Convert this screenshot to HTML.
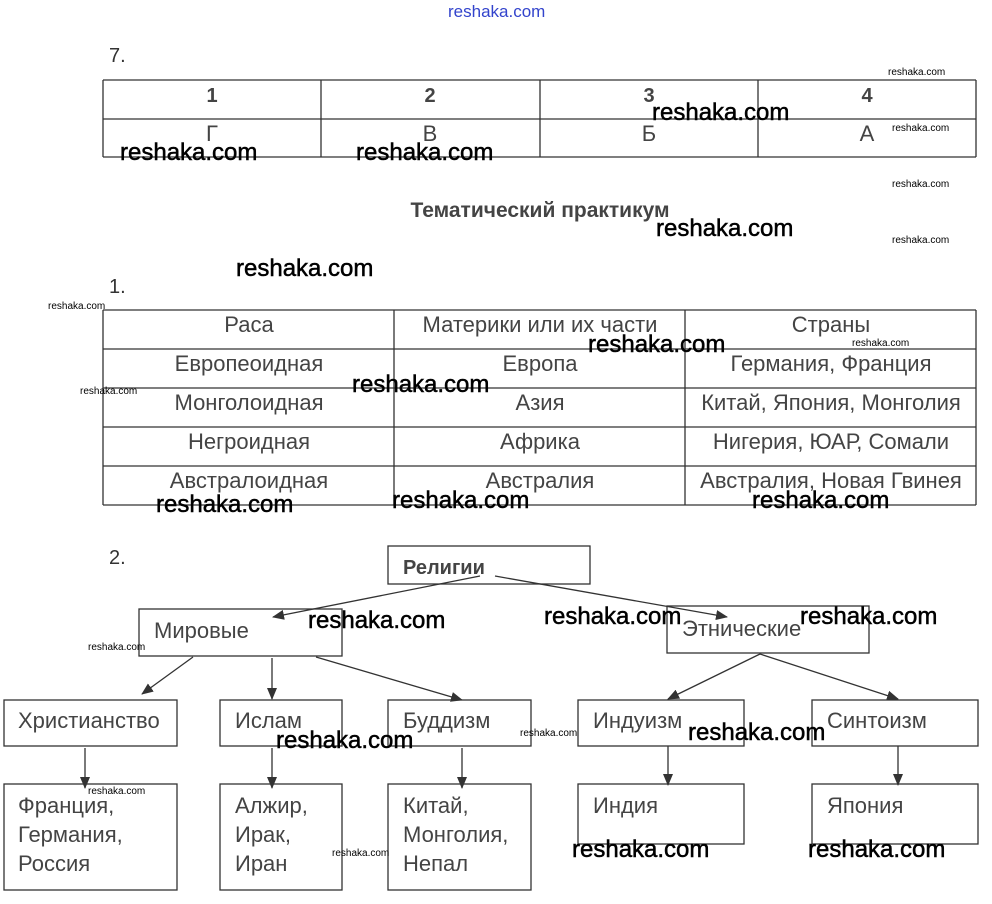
<!DOCTYPE html>
<html><head><meta charset="utf-8"><style>
html,body{margin:0;padding:0;background:#fff;}
svg{display:block;}
text{font-family:"Liberation Sans",sans-serif;}
.t{font-size:22px;fill:#444;}
.c{font-size:22px;fill:#444;text-anchor:middle;}
.w{font-size:24px;fill:#000;stroke:#000;stroke-width:0.5;}
.s{font-size:10px;fill:#000;}
line,rect{stroke:#333;stroke-width:1.3;}
rect{fill:none;}
</style></head><body>
<svg width="992" height="904" viewBox="0 0 992 904" xmlns="http://www.w3.org/2000/svg">
<defs><marker id="a" markerWidth="12" markerHeight="10" refX="11" refY="5" orient="auto" markerUnits="userSpaceOnUse"><path d="M0,0 L12,5 L0,10 z" fill="#333"/></marker></defs>
<text x="448" y="17" style="font-size:17px;fill:#3344cc">reshaka.com</text>
<text x="109" y="62" style="font-size:20px;fill:#333">7.</text>
<line x1="103" y1="80" x2="976" y2="80"/><line x1="103" y1="119" x2="976" y2="119"/><line x1="103" y1="157" x2="976" y2="157"/>
<line x1="103" y1="80" x2="103" y2="157"/><line x1="321" y1="80" x2="321" y2="157"/><line x1="540" y1="80" x2="540" y2="157"/><line x1="758" y1="80" x2="758" y2="157"/><line x1="976" y1="80" x2="976" y2="157"/>
<text class="c" x="212" y="102" style="font-weight:bold;font-size:20px">1</text><text class="c" x="430" y="102" style="font-weight:bold;font-size:20px">2</text><text class="c" x="649" y="102" style="font-weight:bold;font-size:20px">3</text><text class="c" x="867" y="102" style="font-weight:bold;font-size:20px">4</text>
<text class="c" x="212" y="141">Г</text><text class="c" x="430" y="141">В</text><text class="c" x="649" y="141">Б</text><text class="c" x="867" y="141">А</text>
<text class="w" x="120" y="160">reshaka.com</text><text class="w" x="356" y="160">reshaka.com</text><text class="w" x="652" y="120">reshaka.com</text>
<text class="s" x="888" y="75">reshaka.com</text><text class="s" x="892" y="131">reshaka.com</text><text class="s" x="892" y="187">reshaka.com</text><text class="s" x="892" y="243">reshaka.com</text>
<text x="540" y="217" style="font-size:21px;font-weight:bold;fill:#444;text-anchor:middle">Тематический практикум</text>
<text class="w" x="656" y="236">reshaka.com</text>
<text class="w" x="236" y="276">reshaka.com</text>
<text x="109" y="293" style="font-size:20px;fill:#333">1.</text>
<text class="s" x="48" y="309">reshaka.com</text>
<line x1="103" y1="310" x2="976" y2="310"/><line x1="103" y1="349" x2="976" y2="349"/><line x1="103" y1="388" x2="976" y2="388"/><line x1="103" y1="427" x2="976" y2="427"/><line x1="103" y1="466" x2="976" y2="466"/><line x1="103" y1="505" x2="976" y2="505"/>
<line x1="103" y1="310" x2="103" y2="505"/><line x1="394" y1="310" x2="394" y2="505"/><line x1="685" y1="310" x2="685" y2="505"/><line x1="976" y1="310" x2="976" y2="505"/>
<text class="c" x="249" y="332">Раса</text><text class="c" x="540" y="332">Материки или их части</text><text class="c" x="831" y="332">Страны</text>
<text class="c" x="249" y="371">Европеоидная</text><text class="c" x="540" y="371">Европа</text><text class="c" x="831" y="371">Германия, Франция</text>
<text class="c" x="249" y="410">Монголоидная</text><text class="c" x="540" y="410">Азия</text><text class="c" x="831" y="410">Китай, Япония, Монголия</text>
<text class="c" x="249" y="449">Негроидная</text><text class="c" x="540" y="449">Африка</text><text class="c" x="831" y="449">Нигерия, ЮАР, Сомали</text>
<text class="c" x="249" y="488">Австралоидная</text><text class="c" x="540" y="488">Австралия</text><text class="c" x="831" y="488">Австралия, Новая Гвинея</text>
<text class="w" x="588" y="352">reshaka.com</text><text class="s" x="852" y="346">reshaka.com</text>
<text class="w" x="352" y="392">reshaka.com</text><text class="s" x="80" y="394">reshaka.com</text>
<text class="w" x="156" y="512">reshaka.com</text><text class="w" x="392" y="508">reshaka.com</text><text class="w" x="752" y="508">reshaka.com</text>
<text x="109" y="564" style="font-size:20px;fill:#333">2.</text>
<rect x="388" y="546" width="202" height="38"/><text x="403" y="574" style="font-size:20px;font-weight:bold;fill:#444">Религии</text>
<rect x="139" y="609" width="203" height="47"/><text class="t" x="154" y="638">Мировые</text>
<rect x="667" y="606" width="202" height="47"/><text class="t" x="682" y="636">Этнические</text>
<rect x="4" y="700" width="173" height="46"/><text class="t" x="18" y="728">Христианство</text>
<rect x="220" y="700" width="122" height="46"/><text class="t" x="235" y="728">Ислам</text>
<rect x="388" y="700" width="143" height="46"/><text class="t" x="403" y="728">Буддизм</text>
<rect x="578" y="700" width="166" height="46"/><text class="t" x="593" y="728">Индуизм</text>
<rect x="812" y="700" width="166" height="46"/><text class="t" x="827" y="728">Синтоизм</text>
<rect x="4" y="784" width="173" height="106"/><text class="t" x="18" y="813">Франция,</text><text class="t" x="18" y="842">Германия,</text><text class="t" x="18" y="871">Россия</text>
<rect x="220" y="784" width="122" height="106"/><text class="t" x="235" y="813">Алжир,</text><text class="t" x="235" y="842">Ирак,</text><text class="t" x="235" y="871">Иран</text>
<rect x="388" y="784" width="143" height="106"/><text class="t" x="403" y="813">Китай,</text><text class="t" x="403" y="842">Монголия,</text><text class="t" x="403" y="871">Непал</text>
<rect x="578" y="784" width="166" height="60"/><text class="t" x="593" y="813">Индия</text>
<rect x="812" y="784" width="166" height="60"/><text class="t" x="827" y="813">Япония</text>
<g marker-end="url(#a)">
<line x1="480" y1="576" x2="273" y2="617"/>
<line x1="495" y1="576" x2="727" y2="617"/>
<line x1="193" y1="657" x2="142" y2="694"/>
<line x1="272" y1="658" x2="272" y2="699"/>
<line x1="316" y1="657" x2="462" y2="700"/>
<line x1="760" y1="654" x2="668" y2="699"/>
<line x1="760" y1="654" x2="898" y2="699"/>
<line x1="85" y1="748" x2="85" y2="788"/>
<line x1="272" y1="748" x2="272" y2="788"/>
<line x1="462" y1="748" x2="462" y2="788"/>
<line x1="668" y1="746" x2="668" y2="785"/>
<line x1="898" y1="746" x2="898" y2="785"/>
</g>
<text class="w" x="308" y="628">reshaka.com</text><text class="s" x="88" y="650">reshaka.com</text>
<text class="w" x="544" y="624">reshaka.com</text><text class="w" x="800" y="624">reshaka.com</text>
<text class="w" x="276" y="748">reshaka.com</text><text class="s" x="520" y="736">reshaka.com</text>
<text class="w" x="688" y="740">reshaka.com</text>
<text class="s" x="88" y="794">reshaka.com</text><text class="s" x="332" y="856">reshaka.com</text>
<text class="w" x="572" y="857">reshaka.com</text><text class="w" x="808" y="857">reshaka.com</text>
</svg>
</body></html>
